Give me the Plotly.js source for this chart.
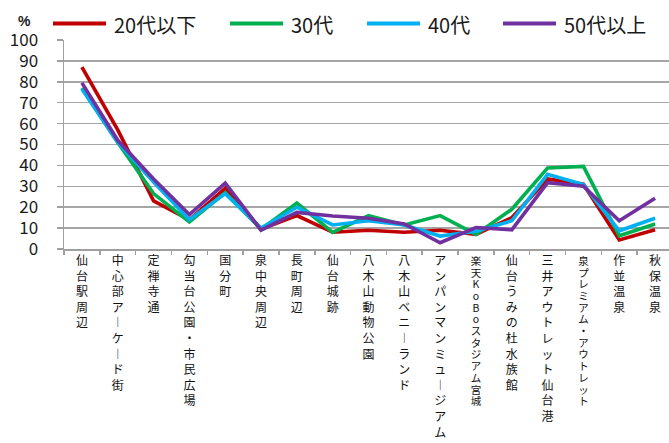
<!DOCTYPE html>
<html>
<head>
<meta charset="utf-8">
<script src="https://cdn.plot.ly/plotly-3.0.1.min.js"></script>
<style>html,body{margin:0;padding:0;background:#fff;overflow:hidden}#chart{width:669px;height:443px}</style>
</head>
<body>
<div id="chart"></div>
<script>
// ---- data ----
const categories = ["仙台駅周辺","中心部アーケード街","定禅寺通","勾当台公園・市民広場","国分町","泉中央周辺","長町周辺","仙台城跡","八木山動物公園","八木山ベニーランド","アンパンマンミュージアム","楽天KoBoスタジアム宮城","仙台うみの杜水族館","三井アウトレット仙台港","泉プレミアム・アウトレット","作並温泉","秋保温泉"];
const seriesNames = ["20代以下","30代","40代","50代以上"];
const age20 = [87, 57, 23, 14, 29, 9.5, 16, 8, 9, 8, 9, 7, 15, 33.5, 31, 4.3, 9.2];
const age30 = [77, 51, 26.5, 13, 27, 9.5, 22, 8, 16, 11.5, 16, 7, 19, 38.8, 39.5, 6.3, 12];
const age40 = [76.5, 51, 32, 14, 26.5, 10, 20, 11.5, 13.5, 11.5, 6.2, 8.5, 13.5, 35.7, 30.8, 8.7, 14.7];
const age50 = [79.5, 52, 33.5, 16.5, 31.5, 9, 17.5, 15.8, 14.7, 12, 3, 10.3, 9.2, 31.7, 30, 13.5, 24.3];
const yTicks = [0,10,20,30,40,50,60,70,80,90,100];
const percentLabel = "%";
const noteText = "※複数回答";

// ---- styles ----
const colors = ["#C00000","#00B050","#00B0F0","#7030A0"];
const values = [age20, age30, age40, age50];
const smallLabels = new Set(["楽天KoBoスタジアム宮城","泉プレミアム・アウトレット"]); // labels shrunk to fit
const W = 669, H = 443, L = 64, T = 40, B = 194, R = 0;
const plotW = W - L - R, plotH = H - T - B;
const px2x = p => (p - L) / plotW;
const px2y = p => (H - B - p) / plotH;
const xRange = [-0.5, 16.5 - 4 / 35.8];

const vertical = s => s.replace(/ー/g, "︱").split("").join("<br>");
const verticalTight = s => s.replace(/ー/g, "︱").split("")
  .map(ch => '<span style="font-size:10.5px">' + ch + '</span>').join("<br>");

const traces = values.map((v, i) => ({
  type: "scatter", mode: "lines",
  x: categories, y: v, name: seriesNames[i],
  line: {color: colors[i], width: 3.6},
  showlegend: false, hoverinfo: "skip"
}));

const legendX = [53, 230, 367, 503];
const legendY = 23.5;
const shapes = legendX.map((lx, i) => ({
  type: "line", xref: "paper", yref: "paper",
  x0: px2x(lx), x1: px2x(lx + 53), y0: px2y(legendY), y1: px2y(legendY),
  line: {color: colors[i], width: 4}
}));
const annotations = legendX.map((lx, i) => ({
  xref: "paper", yref: "paper", x: px2x(lx + 59), y: px2y(legendY + 1.5),
  xanchor: "left", yanchor: "middle", showarrow: false,
  text: seriesNames[i], font: {size: 20, color: "#1a1a1a", family: "Noto Sans CJK JP"}
}));
annotations.push({
  xref: "paper", yref: "paper", x: px2x(24), y: px2y(20.5),
  xanchor: "center", yanchor: "middle", showarrow: false,
  text: "<b>" + percentLabel + "</b>", font: {size: 14, color: "#1a1a1a", family: "Liberation Sans"}
});
annotations.push({
  xref: "paper", yref: "paper", x: px2x(546), y: px2y(6),
  xanchor: "left", yanchor: "bottom", showarrow: false,
  text: noteText, font: {size: 20, color: "#1a1a1a", family: "Noto Sans CJK JP"}
});

const layout = {
  width: W, height: H,
  margin: {l: L, r: R, t: T, b: B, pad: 0},
  paper_bgcolor: "#fff", plot_bgcolor: "#fff",
  showlegend: false,
  xaxis: {
    type: "category", range: xRange,
    tickvals: categories,
    ticktext: categories.map(c => smallLabels.has(c) ? " " : vertical(c)),
    showgrid: false, zeroline: false,
    showline: true, linecolor: "#a0a0a0", linewidth: 1.5,
    ticks: "outside", tickson: "boundaries", ticklen: 4, tickcolor: "#a0a0a0", tickwidth: 1.5,
    tickangle: 0, automargin: false,
    tickfont: {size: 12, color: "#111", family: "Noto Sans CJK JP"}
  },
  xaxis2: {
    overlaying: "x", side: "bottom", anchor: "y",
    type: "linear", range: xRange,
    tickmode: "array",
    tickvals: categories.map((c, i) => smallLabels.has(c) ? i : null).filter(v => v !== null),
    ticktext: categories.filter(c => smallLabels.has(c)).map(verticalTight),
    showgrid: false, zeroline: false, showline: false,
    ticks: "outside", ticklen: 4, tickcolor: "rgba(0,0,0,0)",
    tickangle: 0, automargin: false,
    tickfont: {size: 9, color: "#111", family: "Noto Sans CJK JP"}
  },
  yaxis: {
    range: [0, 100], tickvals: yTicks, ticktext: yTicks.map(String),
    showgrid: true, gridcolor: "#a6a6a6", gridwidth: 1.5,
    zeroline: false, showline: true, linecolor: "#a0a0a0", linewidth: 1.5,
    ticks: "outside", ticklen: 6, tickcolor: "#a0a0a0", tickwidth: 1.5,
    ticklabelstandoff: 15, automargin: false,
    tickfont: {size: 17, color: "#1a1a1a", family: "Noto Sans CJK JP"}
  },
  shapes: shapes,
  annotations: annotations
};

// an empty trace on the overlay axis so it is drawn
traces.push({type: "scatter", mode: "none", x: [], y: [], xaxis: "x2", yaxis: "y", showlegend: false, hoverinfo: "skip"});

Plotly.newPlot("chart", traces, layout, {displayModeBar: false, staticPlot: true});
</script>
</body>
</html>
